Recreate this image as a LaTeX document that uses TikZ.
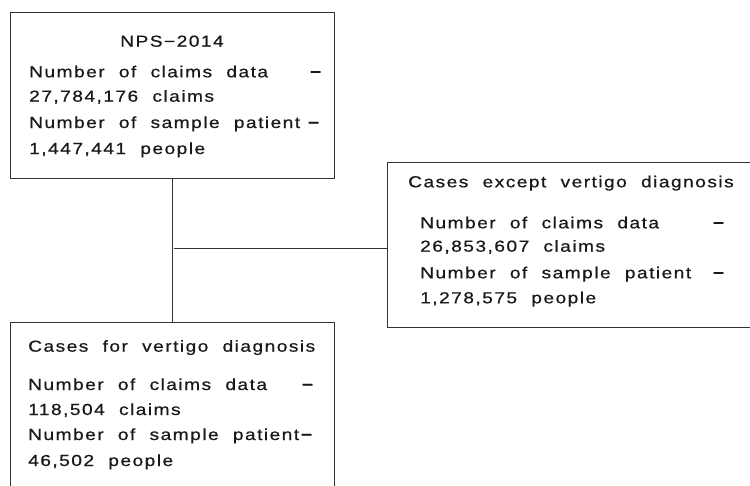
\documentclass[tikz,border=0pt]{standalone}
\usepackage{fontspec}
\setmainfont{Liberation Sans}[FakeStretch=1.2,LetterSpace=9,WordSpace=2.1,FakeBold=0.6]
\begin{document}
\begin{tikzpicture}[x=1pt,y=-1pt,
  box/.style={draw=black!80,line width=1pt,rectangle,inner sep=0pt,anchor=north west},
  txt/.style={anchor=base west,inner sep=0pt,font=\fontsize{16}{19}\selectfont,text=black!90},
  ctxt/.style={anchor=base,inner sep=0pt,font=\fontsize{16}{19}\selectfont,text=black!90},
  dsh/.style={anchor=base west,inner sep=0pt,font=\fontsize{16}{19}\selectfont\bfseries,text=black!90,yshift=1pt},
  conn/.style={draw=black!80,line width=1pt}]
\clip (0,0) rectangle (750,485);
% boxes
\node[box,minimum width=324pt,minimum height=166pt] (b1) at (10,12) {};
\node[box,minimum width=380pt,minimum height=165pt] (b2) at (387,162) {};
\node[box,minimum width=324pt,minimum height=200pt] (b3) at (10,322) {};
% box 1 text
\node[ctxt] (t1) at (172,46.7) {NPS−2014};
\node[txt] (t1a) at (29,77.3) {Number of claims data};
\node[dsh] (d1a) at (310,77.3) {–};
\node[txt] (t1b) at (29,101.7) {27,784,176 claims};
\node[txt] (t1c) at (29,128) {Number of sample patient};
\node[dsh] (d1c) at (308,128) {–};
\node[txt] (t1d) at (29,154) {1,447,441 people};
% box 2 text
\node[txt] (t2) at (408,187.3) {Cases except vertigo diagnosis};
\node[txt] (t2a) at (420,228.3) {Number of claims data};
\node[dsh] (d2a) at (713,228.3) {–};
\node[txt] (t2b) at (420,251.7) {26,853,607 claims};
\node[txt] (t2c) at (420,278.3) {Number of sample patient};
\node[dsh] (d2c) at (713,278.3) {–};
\node[txt] (t2d) at (420,303.3) {1,278,575 people};
% box 3 text
\node[txt] (t3) at (28,351.7) {Cases for vertigo diagnosis};
\node[txt] (t3a) at (28,390) {Number of claims data};
\node[dsh] (d3a) at (302,390) {–};
\node[txt] (t3b) at (28,415) {118,504 claims};
\node[txt] (t3c) at (28,440) {Number of sample patient};
\node[dsh] (d3c) at (301,440) {–};
\node[txt] (t3d) at (28,466) {46,502 people};
% connectors
\coordinate (top) at (172,178);
\coordinate (bot) at (172,322);
\coordinate (j) at (174,248);
\draw[conn] (top) -- (bot);
\draw[conn] (j) -- (j -| b2.west);
\end{tikzpicture}
\end{document}
